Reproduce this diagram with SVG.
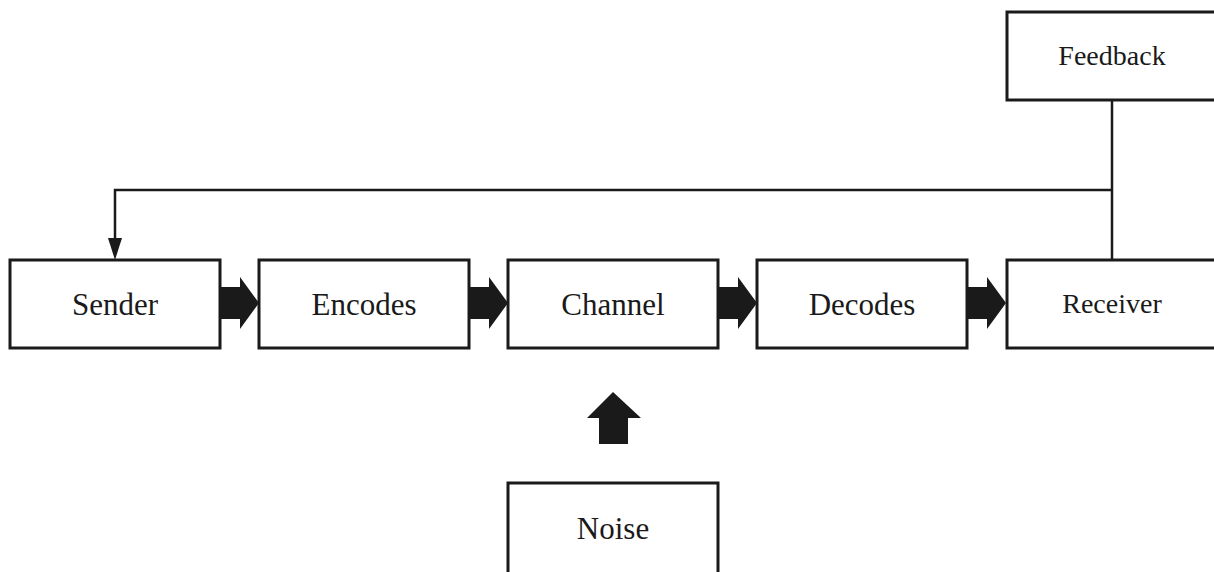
<svg xmlns="http://www.w3.org/2000/svg" width="1214" height="572" viewBox="0 0 1214 572">
<style>
.box{fill:#fff;stroke:#1a1a1a;stroke-width:3}
.lbl{font-family:"Liberation Serif","Times New Roman",serif;font-size:31px;fill:#1a1a1a;text-anchor:middle}
.sm{font-size:28px}
.ln{fill:none;stroke:#1a1a1a;stroke-width:2.5}
.blk{fill:#1a1a1a}
</style>
<defs>
<path id="barrow" d="M0,-16 L20,-16 L20,-26 L39,0 L20,26 L20,16 L0,16 Z"/>
</defs>
<g id="connectors">
<path class="ln" d="M1112,100 L1112,260"/>
<path class="ln" d="M1112,190 L115,190 L115,246"/>
<path d="M108,238 L122,238 L115,260 Z" class="blk"/>
<use href="#barrow" class="blk" x="220" y="303"/>
<use href="#barrow" class="blk" x="469" y="303"/>
<use href="#barrow" class="blk" x="718" y="303"/>
<use href="#barrow" class="blk" x="967" y="303"/>
<path class="blk" d="M613,392 L641,418 L628,418 L628,444 L599,444 L599,418 L587,418 Z"/>
</g>
<g id="feedback"><rect class="box" x="1007" y="12" width="210" height="88"/><text class="lbl sm" x="1112" y="65">Feedback</text></g>
<g id="sender"><rect class="box" x="10" y="260" width="210" height="88"/><text class="lbl" x="115" y="315">Sender</text></g>
<g id="encodes"><rect class="box" x="259" y="260" width="210" height="88"/><text class="lbl" x="364" y="315">Encodes</text></g>
<g id="channel"><rect class="box" x="508" y="260" width="210" height="88"/><text class="lbl" x="613" y="315">Channel</text></g>
<g id="decodes"><rect class="box" x="757" y="260" width="210" height="88"/><text class="lbl" x="862" y="315">Decodes</text></g>
<g id="receiver"><rect class="box" x="1007" y="260" width="210" height="88"/><text class="lbl sm" x="1112" y="313">Receiver</text></g>
<g id="noise"><rect class="box" x="508" y="483" width="210" height="100"/><text class="lbl" x="613" y="539">Noise</text></g>
</svg>
